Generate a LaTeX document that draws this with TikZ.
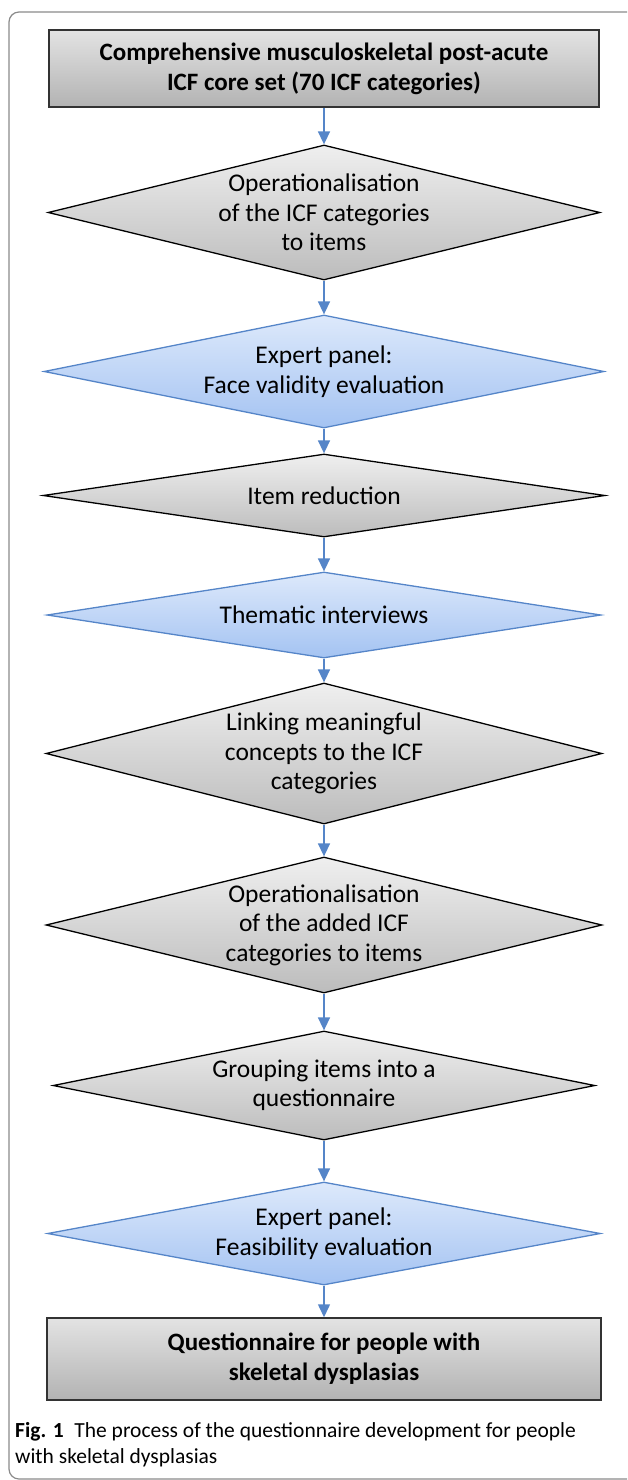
\documentclass[tikz,border=0pt]{standalone}
\usepackage{fontspec}
\setmainfont{Carlito}
\usetikzlibrary{shapes.geometric,arrows.meta}
\definecolor{lgrey}{HTML}{EFEFEF}
\definecolor{dgrey}{HTML}{BCBCBC}
\definecolor{lblue}{HTML}{DDE9FB}
\definecolor{dblue}{HTML}{A4C3F2}
\definecolor{eblue}{HTML}{5585C8}
\definecolor{framegrey}{HTML}{8A8A8A}

\begin{document}
\begin{tikzpicture}[x=1pt,y=-1pt,
    greydiam/.style={diamond,draw=black,line width=1.3pt,top color=lgrey,bottom color=dgrey,inner sep=0pt},
    bluediam/.style={diamond,draw=eblue,line width=1.3pt,top color=lblue,bottom color=dblue,inner sep=0pt},
    endbox/.style={rectangle,draw=black!80,line width=1.5pt,top color=lgrey!95!black,bottom color=dgrey!95!black,inner sep=0pt,align=center,font=\bfseries\fontsize{25}{30}\selectfont},
    steptext/.style={align=center,font=\fontsize{25.5}{29.5}\selectfont},
    flow/.style={eblue,line width=1.5pt,-{Triangle[width=12pt,length=13pt]}}]
\useasboundingbox (0,0) rectangle (627,1480);
\clip (0,0) rectangle (627,1480);
\draw[framegrey,line width=1.2pt,rounded corners=10pt] (9,12) rectangle (660,1479);
% start and end
\node[endbox,minimum width=550,minimum height=77] (coreset) at (324,68.5) {Comprehensive musculoskeletal post-acute\\ICF core set (70 ICF categories)};
\node[endbox,minimum width=554,minimum height=82] (quest) at (324,1359) {Questionnaire for people with\\skeletal dysplasias};
% the steps
\foreach \n/\s/\y/\w/\h/\t in {
    oper/greydiam/212.5/552/135/{Operationalisation\\of the ICF categories\\to items},
    facevalid/bluediam/371.5/560/113/{Expert panel:\\Face validity evaluation},
    reduct/greydiam/495.5/562/83/{Item reduction},
    interv/bluediam/615/554/86/{Thematic interviews},
    linking/greydiam/753.5/556/141/{Linking meaningful\\concepts to the ICF\\categories},
    operadd/greydiam/925/556/136/{Operationalisation\\of the added ICF\\categories to items},
    grouping/greydiam/1085.5/542/109/{Grouping items into a\\questionnaire},
    feasib/bluediam/1233.5/553/103/{Expert panel:\\Feasibility evaluation}} {
    \node[\s,minimum width=\w,minimum height=\h] (\n) at (324,\y) {};
    \node[steptext] (\n-t) at (\n) {\t};
}
\foreach \a/\b in {coreset/oper,oper/facevalid,facevalid/reduct,reduct/interv,interv/linking,linking/operadd,operadd/grouping,grouping/feasib,feasib/quest}
    \draw[flow] (\a) -- (\b);
% caption
\node[anchor=north west,align=left,inner sep=0pt,font=\fontsize{21.5}{26}\selectfont] (caption) at (15,1422) {\textbf{Fig. 1}\hspace{0.5em}The process of the questionnaire development for people\\with skeletal dysplasias};
\end{tikzpicture}
\end{document}
